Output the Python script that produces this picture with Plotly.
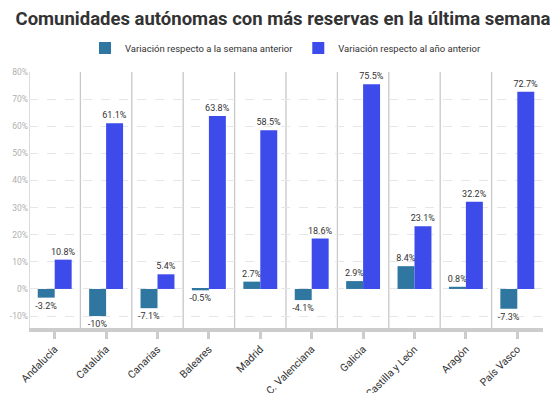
import plotly.graph_objects as go

categories = ["Andalucía", "Cataluña", "Canarias", "Baleares", "Madrid",
              "C. Valenciana", "Galicia", "Castilla y León", "Aragón", "País Vasco"]
var_semana = [-3.2, -10, -7.1, -0.5, 2.7, -4.1, 2.9, 8.4, 0.8, -7.3]
var_anio = [10.8, 61.1, 5.4, 63.8, 58.5, 18.6, 75.5, 23.1, 32.2, 72.7]
y_ticks = [-10, 0, 10, 20, 30, 40, 50, 60, 70, 80]

FONT = "Roboto"

def fmt(v):
    return f"{v:g}%"

fig = go.Figure()
fig.add_trace(go.Bar(
    name="Variación respecto a la semana anterior", x=categories, y=var_semana,
    marker=dict(color="#2F77A1", line=dict(width=0)),
    text=[fmt(v) for v in var_semana], textposition="outside",
    textfont=dict(size=9, color="#333333", family=FONT), cliponaxis=False,
))
fig.add_trace(go.Bar(
    name="Variación respecto al año anterior", x=categories, y=var_anio,
    marker=dict(color="#3D4BEB", line=dict(width=0)),
    text=[fmt(v) for v in var_anio], textposition="outside",
    textfont=dict(size=9, color="#333333", family=FONT), cliponaxis=False,
))

shapes = []
for i in range(len(categories)):
    shapes.append(dict(type="line", xref="x", yref="paper", x0=i - 0.5, x1=i - 0.5,
                       y0=0, y1=1, line=dict(color="#c8c8c8", width=1.3), layer="below"))
fig.update_layout(shapes=shapes)

# page body has an 8px margin: figure is sized so it fills the rest of the window
fig.update_layout(
    width=550, height=385,
    margin=dict(l=21, r=15, t=64, b=65, autoexpand=False),
    paper_bgcolor="white", plot_bgcolor="white",
    barmode="group", bargap=0.34, bargroupgap=0,
    title=dict(text="<b>Comunidades autónomas con más reservas en la última semana</b>",
               x=0.5, xanchor="center", xref="container",
               y=0.974, yanchor="middle", yref="container",
               font=dict(size=18.5, color="#333333", family=FONT, weight=900)),
    legend=dict(orientation="h", x=0.5, xanchor="center", y=1.094, yanchor="middle",
                font=dict(size=9.5, color="#333333", family=FONT),
                itemwidth=30, traceorder="normal", tracegroupgap=0),
    uniformtext=dict(minsize=8, mode="show"),
    font=dict(family=FONT),
)
fig.update_xaxes(
    showgrid=False, showline=True, linecolor="#cccccc", linewidth=4,
    ticks="outside", ticklen=7, tickwidth=3, tickcolor="#cccccc",
    tickangle=-45, tickfont=dict(size=10.5, color="#333333", family=FONT),
    range=[-0.5, 9.5], fixedrange=True, automargin=False,
)
fig.update_yaxes(
    range=[-14.4, 80], tickvals=y_ticks, ticktext=[f"{v}%" for v in y_ticks],
    showgrid=True, gridcolor="#e6e6e6", griddash="dash", gridwidth=1,
    zeroline=False, showline=False, automargin=False,
    tickfont=dict(size=8.5, color="#b0b0b0", family=FONT), ticks="",
)

fig.write_html("out.html")
